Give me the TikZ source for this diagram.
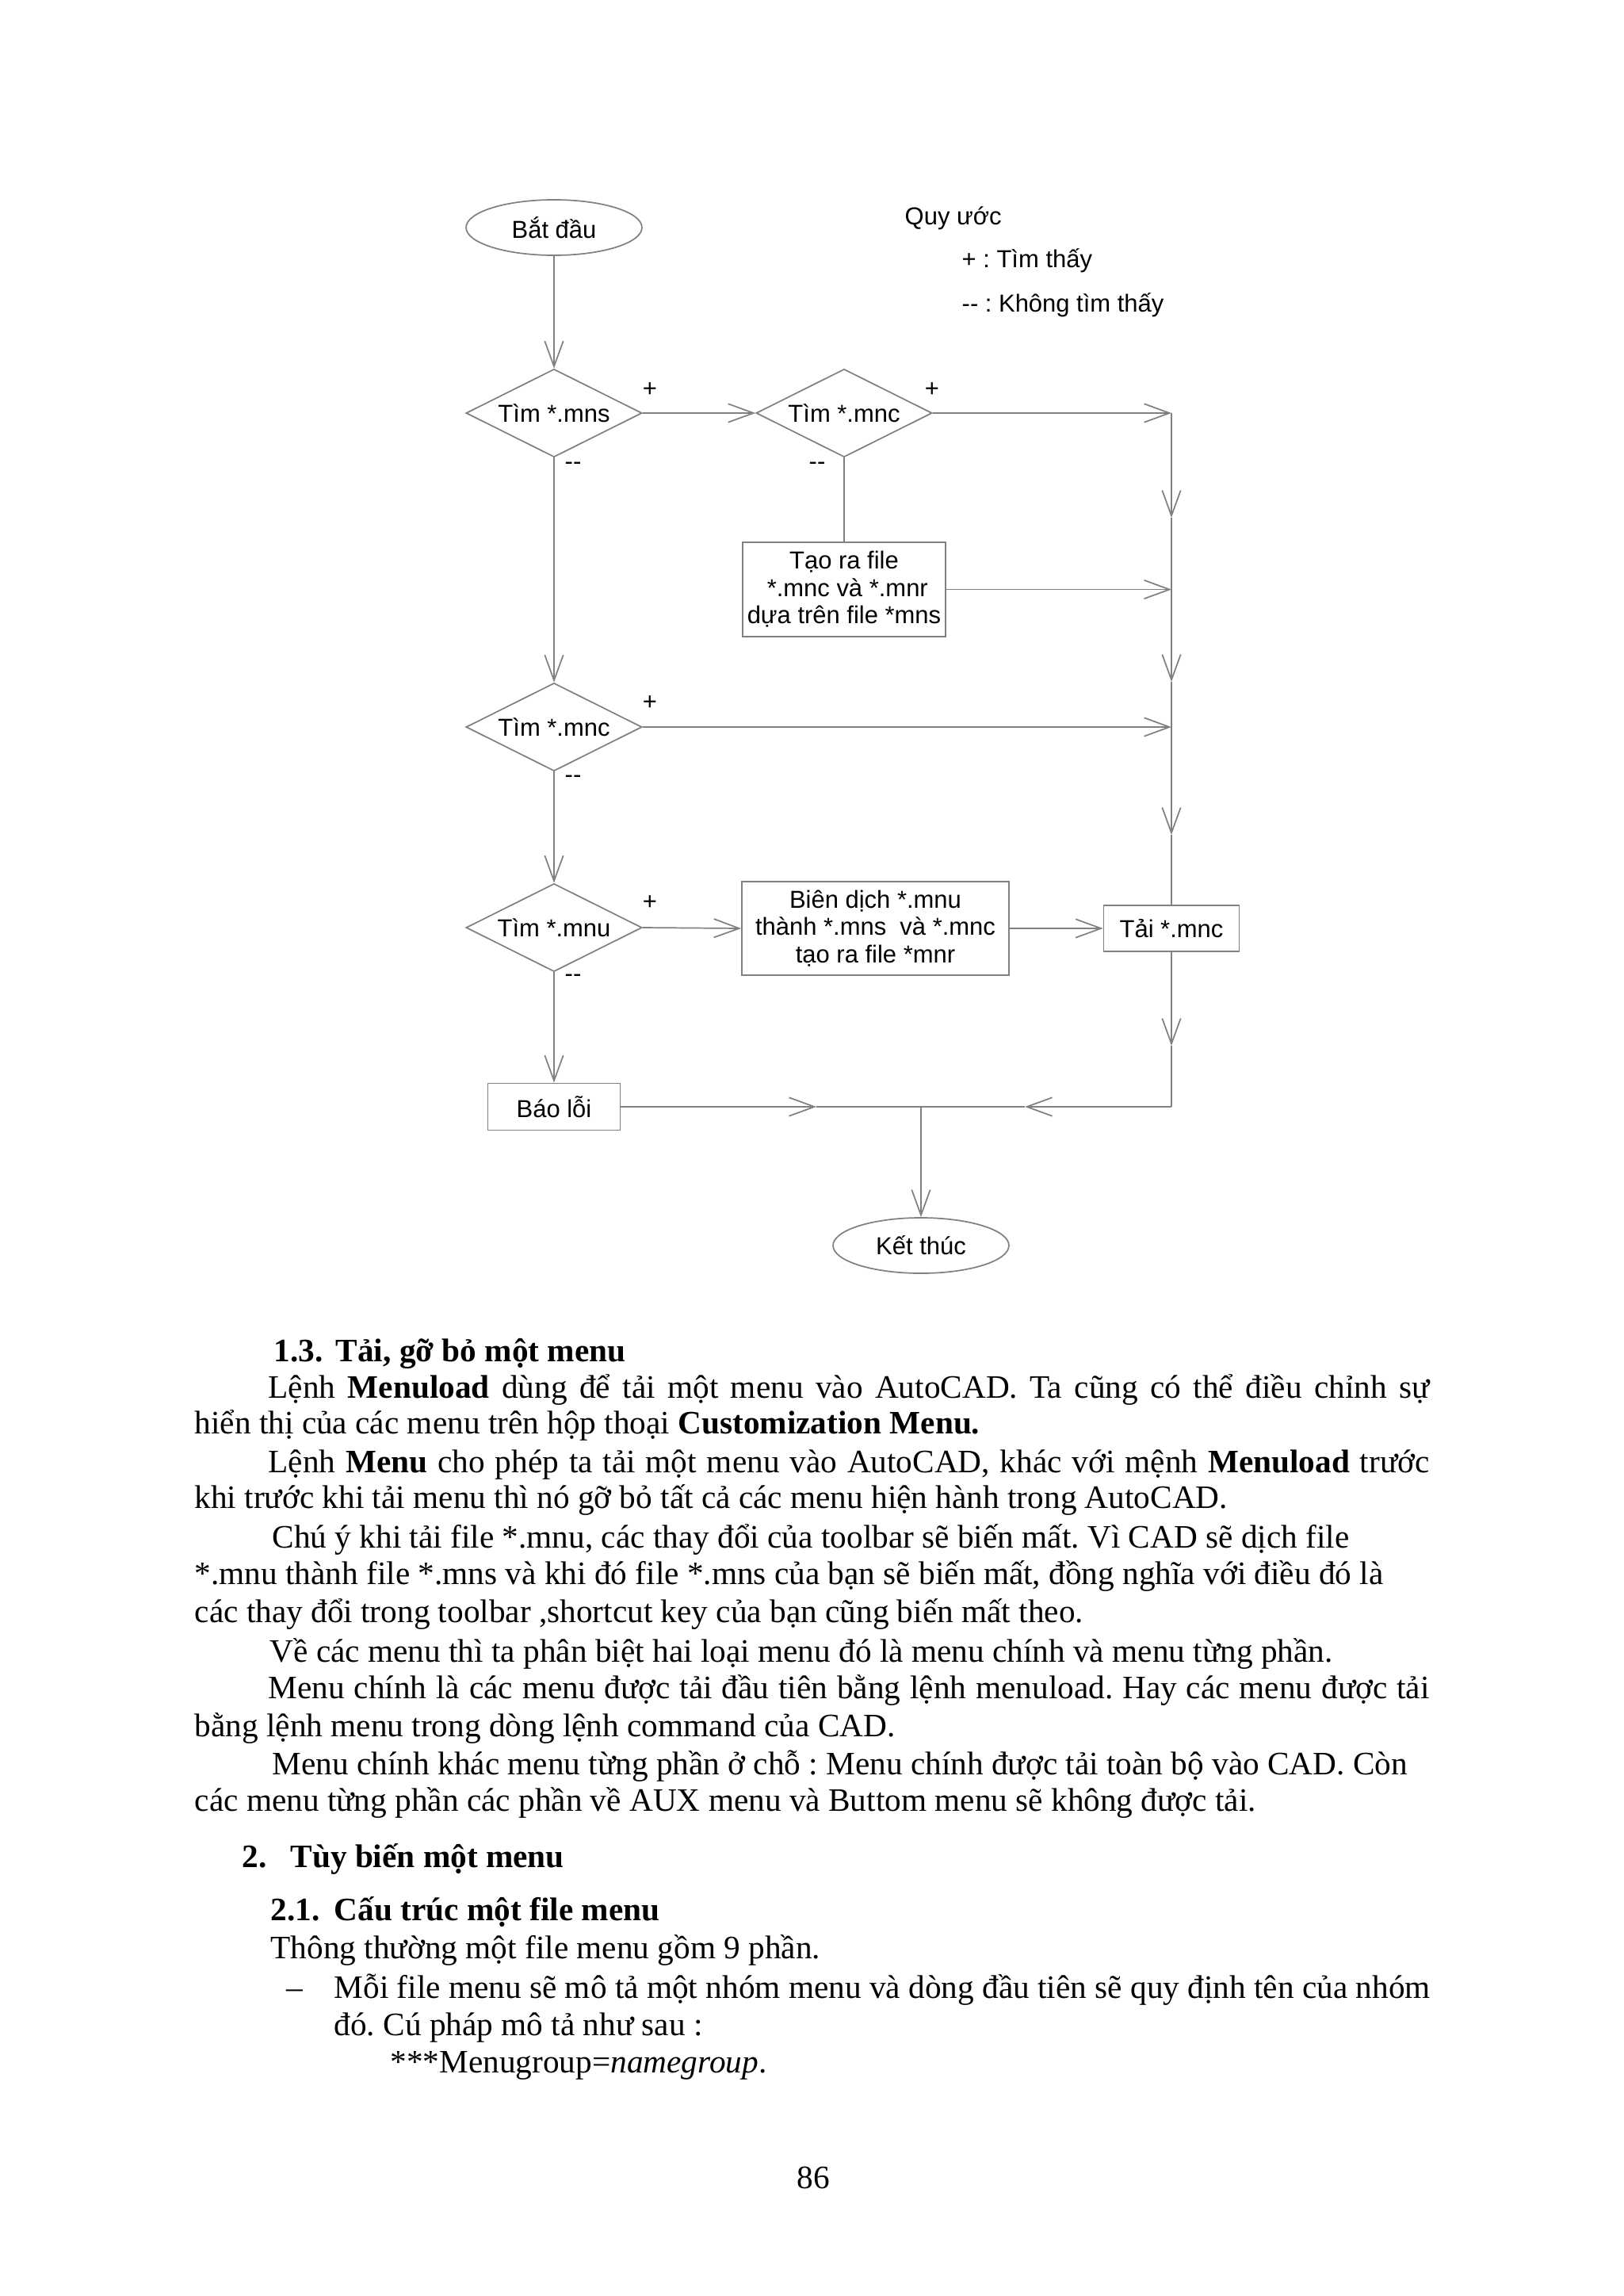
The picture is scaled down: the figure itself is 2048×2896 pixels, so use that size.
\documentclass[tikz,border=0pt]{standalone}
\usepackage{fontspec}
\setmainfont{Liberation Serif}
\newfontfamily\diagfont{Liberation Sans}
\usetikzlibrary{shapes.geometric,arrows.meta}
\definecolor{linegray}{RGB}{128,128,128}
\frenchspacing
\tikzset{
  barbtip/.tip={Straight Barb[length=9.3pt,width=6.8pt]},
  ln/.style={draw=linegray, line width=0.5pt},
  flow/.style={ln, -barbtip},
  dfont/.style={font=\diagfont\fontsize{9}{10}\selectfont},
  term/.style={ellipse, ln, dfont, inner sep=0pt, minimum width=64.5pt, minimum height=20.35pt},
  dec/.style={diamond, ln, dfont, inner sep=0pt, aspect=2, minimum width=64.53pt, minimum height=32.26pt},
  proc/.style={rectangle, ln, dfont, inner sep=0pt, align=center},
  lbl/.style={dfont, inner sep=0pt},
  lgd/.style={dfont, inner sep=0pt, anchor=base west},
  txt/.style={inner sep=0pt, anchor=base west, font=\fontsize{12}{13.8}\selectfont\frenchspacing},
}
\begin{document}
\begin{tikzpicture}[x=0.290664pt,y=-0.290664pt]
\fill[white] (0,0) rectangle (2048,2896);
\useasboundingbox (0,0) rectangle (2048,2896);

% ---------- flowchart nodes ----------
\node[term] (start) at (699,287) {Bắt đầu};
\node[dec] (d1) at (699,521) {Tìm *.mns};
\node[dec] (d2) at (1065,521) {Tìm *.mnc};
\node[proc, minimum width=74.41pt, minimum height=34.59pt] (tao) at (1065,743.5)
  {Tạo ra file\\\hspace*{2.5pt}*.mnc và *.mnr\\dựa trên file *mns};
\node[dec] (d3) at (699,917) {Tìm *.mnc};
\node[dec] (d4) at (699,1170) {Tìm *.mnu};
\node[proc, minimum width=97.95pt, minimum height=34.3pt] (bien) at (1104.5,1171)
  {Biên dịch *.mnu\\thành *.mns\ \ và *.mnc\\tạo ra file *mnr};
\node[proc, minimum width=49.7pt, minimum height=16.86pt] (tai) at (1478,1171) {Tải *.mnc};
\node[proc, minimum width=48.54pt, minimum height=17.15pt] (bao) at (699,1396) {Báo lỗi};
\node[term] (end) at (1162,1571) {Kết thúc};

% junction points on the collecting lines
\coordinate (r1) at (1478,521);
\coordinate (r2) at (1478,743.5);
\coordinate (r3) at (1478,917);
\coordinate (c1) at (1478,1396);
\coordinate (j) at (1162,1396);
% points where the mid-line arrowheads sit
\coordinate (a1) at (1478,653);
\coordinate (a2) at (1478,860);
\coordinate (a3) at (1478,1053);
\coordinate (a4) at (1478,1319);
\coordinate (a5) at (1293,1396);
\coordinate (a6) at (1030,1396);

% ---------- legend ----------
\node[lgd] (q0) at (1141,283) {Quy ước};
\node[lgd] (q1) at (1213,337) {+ : Tìm thấy};
\node[lgd] (q2) at (1213,393) {-{}- : Không tìm thấy};

% ---------- branch labels ----------
\node[lbl] (p1) at (820,492) {+};
\node[lbl] (p2) at (1176,492) {+};
\node[lbl] (p3) at (820,887) {+};
\node[lbl] (p4) at (820,1139) {+};
\node[lbl] (m1) at (723,588) {-{}-};
\node[lbl] (m2) at (1031,588) {-{}-};
\node[lbl] (m3) at (723,983) {-{}-};
\node[lbl] (m4) at (723,1234) {-{}-};

% ---------- connectors ----------
\draw[flow] (start) -- (d1);
\draw[flow] (d1.east) -- (d2.west);
\draw[flow] (d2.east) -- (r1);
\draw[ln] (d2.south) -- (tao.north);
\draw[flow] (tao.east) -- (r2);
\draw[flow] (d1.south) -- (d3.north);
\draw[flow] (d3.east) -- (r3);
\draw[flow] (r1) -- (a1);
\draw[ln] (a1) -- (r2);
\draw[flow] (r2) -- (a2);
\draw[ln] (a2) -- (r3);
\draw[flow] (r3) -- (a3);
\draw[ln] (a3) -- (tai.north);
\draw[flow] (d3.south) -- (d4.north);
\draw[flow] (d4.east) -- (bien.west);
\draw[flow] (bien.east) -- (tai.west);
\draw[flow] (d4.south) -- (bao.north);
\draw[flow] (tai.south) -- (a4);
\draw[ln] (a4) -- (c1);
\draw[flow] (c1) -- (a5);
\draw[ln] (a5) -- (j);
\draw[flow] (bao.east) -- (a6);
\draw[ln] (a6) -- (j);
\draw[flow] (j) -- (end.north);

% ---------- body text ----------
\node[txt] (h13) at (345,1717) {\bfseries\makebox[22.7pt][l]{1.3.}Tải, gỡ bỏ một menu};
\node[txt] (t1) at (338,1763) {\makebox[425.8pt][s]{Lệnh \textbf{Menuload} dùng để tải một menu vào AutoCAD. Ta cũng có thể điều chỉnh sự}};
\node[txt] (t2) at (245,1808) {hiển thị của các menu trên hộp thoại \textbf{Customization Menu.}};
\node[txt] (t3) at (338,1857) {\makebox[425.8pt][s]{Lệnh \textbf{Menu} cho phép ta tải một menu vào AutoCAD, khác với mệnh \textbf{Menuload} trước}};
\node[txt] (t4) at (245,1902) {khi trước khi tải menu thì nó gỡ bỏ tất cả các menu hiện hành trong AutoCAD.};
\node[txt] (t5) at (343,1952) {Chú ý khi tải file *.mnu, các thay đổi của toolbar sẽ biến mất. Vì CAD sẽ dịch file};
\node[txt] (t6) at (245,1998) {*.mnu thành file *.mns và khi đó file *.mns của bạn sẽ biến mất, đồng nghĩa với điều đó là};
\node[txt] (t7) at (245,2046) {các thay đổi trong toolbar ,shortcut key của bạn cũng biến mất theo.};
\node[txt] (t8) at (340,2096) {Về các menu thì ta phân biệt hai loại menu đó là menu chính và menu từng phần.};
\node[txt] (t9) at (338,2142) {\makebox[425.8pt][s]{Menu chính là các menu được tải đầu tiên bằng lệnh menuload. Hay các menu được tải}};
\node[txt] (t10) at (245,2190) {bằng lệnh menu trong dòng lệnh command của CAD.};
\node[txt] (t11) at (343,2238) {Menu chính khác menu từng phần ở chỗ : Menu chính được tải toàn bộ vào CAD. Còn};
\node[txt] (t12) at (245,2284) {các menu từng phần các phần về AUX menu và Buttom menu sẽ không được tải.};
\node[txt] (h2) at (305,2355) {\bfseries\makebox[17.7pt][l]{2.}Tùy biến một menu};
\node[txt] (h21) at (341,2422) {\bfseries\makebox[23.3pt][l]{2.1.}Cấu trúc một file menu};
\node[txt] (t13) at (341,2470) {Thông thường một file menu gồm 9 phần.};
\node[txt] (dash) at (361,2520) {–};
\node[txt] (t14) at (421,2520) {\makebox[402pt][s]{Mỗi file menu sẽ mô tả một nhóm menu và dòng đầu tiên sẽ quy định tên của nhóm}};
\node[txt] (t15) at (421,2567) {đó. Cú pháp mô tả như sau :};
\node[txt] (t16) at (492,2614) {***Menugroup=\textit{namegroup}.};
\node[txt, anchor=base] (pg) at (1026,2760) {86};
\end{tikzpicture}
\end{document}
